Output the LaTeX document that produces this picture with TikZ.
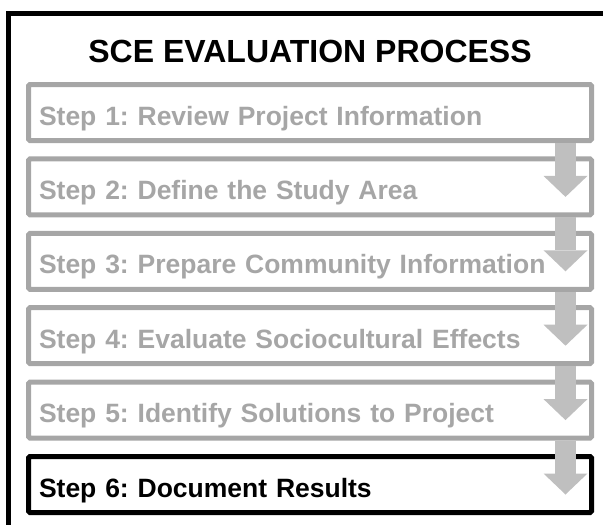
\documentclass[tikz,border=0pt]{standalone}
\usepackage{fontspec}
\setmainfont{Liberation Sans}
\frenchspacing
\usetikzlibrary{arrows.meta, positioning}
\definecolor{StepGrey}{HTML}{A6A6A6}
\definecolor{ArrowGrey}{HTML}{BFBFBF}
\tikzset{
  process style/.style={
    x=1pt, y=-1pt,
    node distance=18.4pt,
  },
  frame line/.style={
    draw=black,
    line width=5pt,
  },
  step box/.style={
    draw=#1,
    text=#1,
    line width=5pt,
    rounded corners=1.5pt,
    rectangle,
    outer sep=0pt,
    inner xsep=10.5pt,
    inner ysep=0pt,
    text width=542pt,
    text height=25pt,
    text depth=0pt,
    minimum height=56pt,
    align=left,
    font=\fontsize{26.5}{30}\selectfont\bfseries,
  },
  done step/.style={
    step box=StepGrey,
  },
  current step/.style={
    step box=black,
  },
  step arrow/.style={
    draw=ArrowGrey,
    line width=21pt,
    -{Triangle[width=44pt,length=21pt,line width=0pt]},
  },
}

\begin{document}
\begin{tikzpicture}[process style]
  \path[use as bounding box, clip] (0,0) rectangle (603,525);
  \draw[frame line] (8.5,13.5) rectangle (640,560);
  \node[anchor=base, font=\fontsize{32}{38}\selectfont\bfseries] (title)
    at (310,62) {SCE EVALUATION PROCESS};
  \node[done step] (step1) at (310,112.5) {Step 1: Review Project Information};
  \node[done step] (step2) [below=of step1] {Step 2: Define the Study Area};
  \node[done step] (step3) [below=of step2] {Step 3: Prepare Community Information};
  \node[done step] (step4) [below=of step3] {Step 4: Evaluate Sociocultural Effects};
  \node[done step] (step5) [below=of step4] {Step 5: Identify Solutions to Project};
  \node[current step] (step6) [below=of step5] {Step 6: Document Results};
  % arrows sit on top of the boxes
  \draw[step arrow] ([xshift=-26pt,yshift=-2.5pt]step1.south east) -- ([xshift=-26pt,yshift=-10pt]step2.east);
  \draw[step arrow] ([xshift=-26pt,yshift=-2.5pt]step2.south east) -- ([xshift=-26pt,yshift=-10pt]step3.east);
  \draw[step arrow] ([xshift=-26pt,yshift=-2.5pt]step3.south east) -- ([xshift=-26pt,yshift=-10pt]step4.east);
  \draw[step arrow] ([xshift=-26pt,yshift=-2.5pt]step4.south east) -- ([xshift=-26pt,yshift=-10pt]step5.east);
  \draw[step arrow] ([xshift=-26pt,yshift=-2.5pt]step5.south east) -- ([xshift=-26pt,yshift=-10pt]step6.east);
\end{tikzpicture}
\end{document}
